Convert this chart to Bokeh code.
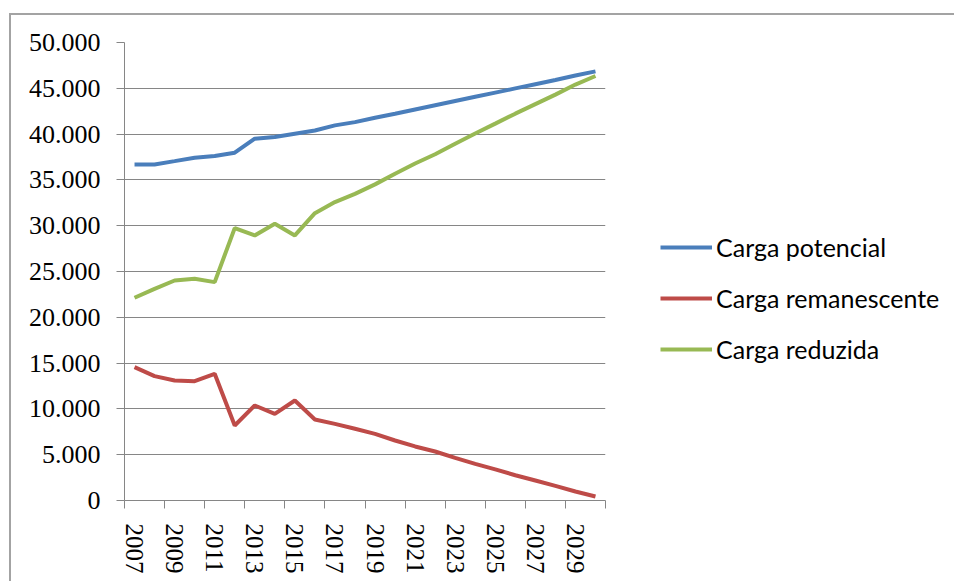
from bokeh.plotting import figure
from bokeh.models import FixedTicker, Legend, LegendItem
from bokeh.embed import file_html
from bokeh.resources import INLINE

# Years on the category axis
years = list(range(2007, 2031))

# Series values (load, per year)
carga_potencial = [36690, 36690, 37050, 37420, 37600, 37970, 39500, 39680, 40040, 40400,
                   40950, 41310, 41790, 42230, 42690, 43150, 43610, 44070, 44530, 44990,
                   45450, 45910, 46390, 46850]
carga_remanescente = [14560, 13580, 13100, 13030, 13830, 8190, 10370, 9460, 10920, 8850,
                      8370, 7830, 7280, 6550, 5900, 5350, 4660, 4000, 3390, 2760,
                      2180, 1600, 980, 440]
carga_reduzida = [22130, 23110, 24020, 24200, 23840, 29740, 28940, 30210, 28940, 31370,
                  32580, 33480, 34510, 35680, 36790, 37800, 38950, 40070, 41140, 42230,
                  43270, 44310, 45410, 46340]

series_names = ["Carga potencial", "Carga remanescente", "Carga reduzida"]
series_colors = ["#4A7EBB", "#BE4B48", "#98B954"]

# Axis ticks and labels
y_ticks = [0, 5000, 10000, 15000, 20000, 25000, 30000, 35000, 40000, 45000, 50000]
y_tick_labels = ["0", "5.000", "10.000", "15.000", "20.000", "25.000",
                 "30.000", "35.000", "40.000", "45.000", "50.000"]
x_label_years = [2007, 2009, 2011, 2013, 2015, 2017, 2019, 2021, 2023, 2025, 2027, 2029]
x_tick_marks = [y - 0.5 for y in range(2007, 2032, 2)]

p = figure(
    frame_width=481, frame_height=458,
    min_border_left=113, min_border_top=27, min_border_right=349, min_border_bottom=81,
    x_range=(2006.5, 2030.5), y_range=(0, 50000),
    output_backend="svg", toolbar_location=None,
)
p.margin = (13, 0, 0, 9)
p.styles = {"border-top": "2px solid #a3a3a3", "border-left": "2px solid #a3a3a3"}
p.outline_line_color = None
p.background_fill_color = "white"
p.border_fill_color = "white"

grid_color = "#868686"

# Y axis
p.yaxis.ticker = FixedTicker(ticks=y_ticks)
p.yaxis.major_label_overrides = {t: s for t, s in zip(y_ticks, y_tick_labels)}
p.yaxis.major_label_text_font = "Liberation Serif"
p.yaxis.major_label_text_font_size = "26px"
p.yaxis.major_label_text_color = "black"
p.yaxis.major_label_standoff = 16
p.yaxis.axis_line_color = grid_color
p.yaxis.major_tick_line_color = grid_color
p.yaxis.major_tick_out = 8
p.yaxis.major_tick_in = 0
p.yaxis.minor_tick_line_color = None

# X axis: labels at category centres, tick marks at category boundaries
p.xaxis.ticker = FixedTicker(ticks=x_label_years, minor_ticks=x_tick_marks)
p.xaxis.major_label_orientation = "vertical"
p.xaxis.major_label_text_font = "Liberation Serif"
p.xaxis.major_label_text_font_size = "25px"
p.xaxis.major_label_text_color = "black"
p.xaxis.major_label_standoff = 15
p.xaxis.axis_line_color = grid_color
p.xaxis.major_tick_line_color = None
p.xaxis.major_tick_out = 0
p.xaxis.major_tick_in = 0
p.xaxis.minor_tick_line_color = grid_color
p.xaxis.minor_tick_out = 8
p.xaxis.minor_tick_in = 0

p.xgrid.grid_line_color = None
p.ygrid.grid_line_color = grid_color
p.ygrid.grid_line_width = 1

renderers = []
for vals, color in zip([carga_potencial, carga_remanescente, carga_reduzida], series_colors):
    r = p.line(years, vals, line_color=color, line_width=4)
    renderers.append(r)

legend = Legend(
    items=[LegendItem(label=n, renderers=[r]) for n, r in zip(series_names, renderers)],
    location=(55, 136),
    orientation="vertical",
    glyph_width=52, glyph_height=24,
    label_standoff=4, spacing=21, padding=0, margin=0,
    border_line_color=None, background_fill_alpha=0,
    label_text_font="Lato", label_text_font_size="25px", label_text_color="black",
)
p.add_layout(legend, "right")

open("out.html", "w").write(file_html(p, INLINE))
